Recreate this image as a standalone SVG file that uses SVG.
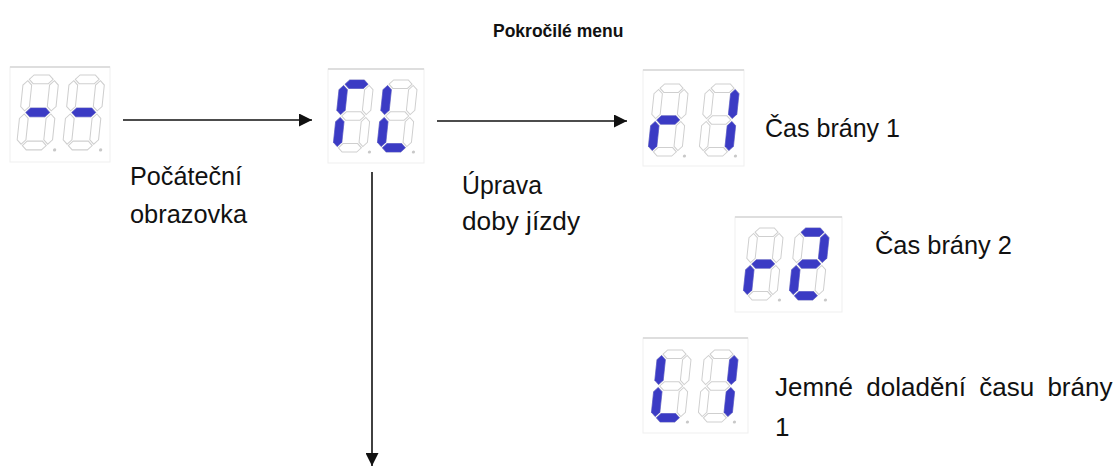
<svg xmlns="http://www.w3.org/2000/svg" xmlns:xlink="http://www.w3.org/1999/xlink" width="1115" height="476" viewBox="0 0 1115 476">
<style>
.off{fill:#ffffff;stroke:#cfcfcf;stroke-width:1}
.on{fill:#3b3bc4;stroke:#4a4ad0;stroke-width:0.5}
.frame{fill:#ffffff;stroke:#efefef;stroke-width:1}
.ftop{stroke:#dedede;stroke-width:2}
.dp{fill:#c8c8c8}
.lbl{font-family:"Liberation Sans",Arial,sans-serif;font-size:26px;fill:#111}
.title{font-family:"Liberation Sans",Arial,sans-serif;font-size:17.5px;font-weight:bold;fill:#111}
.conn{stroke:#111;stroke-width:1.6;fill:none}
</style>
<defs>
<polygon id="sa" points="5.5,4.2 9.7,0 24.3,0 28.5,4.2 24.3,8.4 9.7,8.4"/>
<polygon id="sg" points="5.5,36 9.7,31.8 24.3,31.8 28.5,36 24.3,40.2 9.7,40.2"/>
<polygon id="sd" points="5.5,67.8 9.7,63.6 24.3,63.6 28.5,67.8 24.3,72 9.7,72"/>
<polygon id="sf" points="4.2,5.5 8.4,9.7 8.4,30.3 4.2,34.5 0,30.3 0,9.7"/>
<polygon id="se" points="4.2,37.5 8.4,41.7 8.4,62.3 4.2,66.5 0,62.3 0,41.7"/>
<polygon id="sb" points="29.8,5.5 34,9.7 34,30.3 29.8,34.5 25.6,30.3 25.6,9.7"/>
<polygon id="sc" points="29.8,37.5 34,41.7 34,62.3 29.8,66.5 25.6,62.3 25.6,41.7"/>
<g id="blank">
<use href="#sa" class="off"/><use href="#sb" class="off"/><use href="#sc" class="off"/><use href="#sd" class="off"/><use href="#se" class="off"/><use href="#sf" class="off"/><use href="#sg" class="off"/>
<circle cx="37" cy="72" r="1.6" class="dp"/>
</g>
<marker id="arrh" viewBox="0 0 10 10" refX="10" refY="5" markerWidth="16" markerHeight="13" markerUnits="userSpaceOnUse" orient="auto">
<path d="M0,0 L10,5 L0,10 z" fill="#111"/>
</marker>
</defs>

<text class="title" x="493" y="37">Pokročilé menu</text>

<g id="connectors">
<line class="conn" x1="123" y1="120" x2="312" y2="120" marker-end="url(#arrh)"/>
<line class="conn" x1="437" y1="121" x2="627" y2="121" marker-end="url(#arrh)"/>
<line class="conn" x1="372" y1="172" x2="372" y2="466" marker-end="url(#arrh)"/>
</g>

<g id="node-start">
<rect class="frame" x="10" y="67" width="100" height="95"/>
<line class="ftop" x1="10" y1="67" x2="110" y2="67"/>
<g transform="translate(24,75) scale(1.04) skewX(-6)"><use href="#blank"/><use href="#sg" class="on"/></g>
<g transform="translate(70,75) scale(1.04) skewX(-6)"><use href="#blank"/><use href="#sg" class="on"/></g>
<text class="lbl" x="130" y="185" textLength="112" lengthAdjust="spacingAndGlyphs">Počáteční</text>
<text class="lbl" x="130" y="223" textLength="117" lengthAdjust="spacingAndGlyphs">obrazovka</text>
</g>

<g id="node-nl">
<rect class="frame" x="328" y="69" width="96" height="94"/>
<line class="ftop" x1="328" y1="69" x2="424" y2="69"/>
<g transform="translate(340,80) skewX(-6)"><use href="#blank"/><use href="#sa" class="on"/><use href="#sf" class="on"/><use href="#se" class="on"/></g>
<g transform="translate(384,80) skewX(-6)"><use href="#blank"/><use href="#sf" class="on"/><use href="#se" class="on"/><use href="#sd" class="on"/></g>
<text class="lbl" x="462" y="194" textLength="80" lengthAdjust="spacingAndGlyphs">Úprava</text>
<text class="lbl" x="462" y="230" textLength="118" lengthAdjust="spacingAndGlyphs">doby jízdy</text>
</g>

<g id="node-r1">
<rect class="frame" x="643" y="70" width="101" height="96"/>
<line class="ftop" x1="643" y1="70" x2="744" y2="70"/>
<g transform="translate(655,84) skewX(-6)"><use href="#blank"/><use href="#sg" class="on"/><use href="#se" class="on"/></g>
<g transform="translate(706,84) skewX(-6)"><use href="#blank"/><use href="#sb" class="on"/><use href="#sc" class="on"/></g>
<text class="lbl" x="765" y="137" textLength="135" lengthAdjust="spacingAndGlyphs">Čas brány 1</text>
</g>

<g id="node-r2">
<rect class="frame" x="735" y="217" width="107" height="95"/>
<line class="ftop" x1="735" y1="217" x2="842" y2="217"/>
<g transform="translate(750,228) skewX(-6)"><use href="#blank"/><use href="#sg" class="on"/><use href="#se" class="on"/></g>
<g transform="translate(796,228) skewX(-6)"><use href="#blank"/><use href="#sa" class="on"/><use href="#sb" class="on"/><use href="#sg" class="on"/><use href="#se" class="on"/><use href="#sd" class="on"/></g>
<text class="lbl" x="875" y="254" textLength="137" lengthAdjust="spacingAndGlyphs">Čas brány 2</text>
</g>

<g id="node-l1">
<rect class="frame" x="643" y="338" width="105" height="95"/>
<line class="ftop" x1="643" y1="338" x2="748" y2="338"/>
<g transform="translate(658,350) skewX(-6)"><use href="#blank"/><use href="#sf" class="on"/><use href="#se" class="on"/><use href="#sd" class="on"/></g>
<g transform="translate(705,350) skewX(-6)"><use href="#blank"/><use href="#sb" class="on"/><use href="#sc" class="on"/></g>
<text class="lbl" x="775" y="396" word-spacing="6">Jemné doladění času brány</text>
<text class="lbl" x="775" y="436">1</text>
</g>
</svg>
